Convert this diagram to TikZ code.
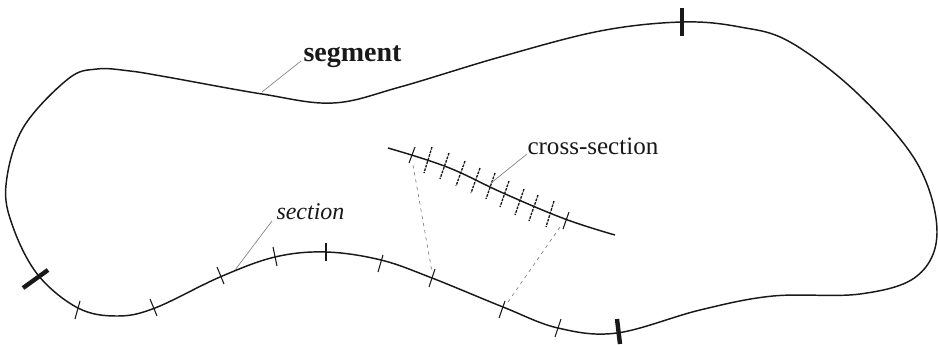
\documentclass[tikz,border=0pt]{standalone}
\usepackage{fontspec}
\setmainfont{Liberation Serif}
\tikzset{every picture/.style={line width=0.75pt}}
\tikzset{
  outline/.style={line width=1.1pt,black!90},
  thicktick/.style={line width=3.3pt,black!90},
  thintick/.style={line width=0.8pt,black!90},
  dottick/.style={line width=1pt,black!90,dash pattern=on 2pt off 0.8pt},
  leader/.style={line width=0.5pt,black!50},
  guide/.style={line width=0.5pt,black!50,dash pattern=on 2.5pt off 3pt},
  lbl/.style={inner sep=0pt,text=black!90,anchor=base west}
}
\begin{document}
\begin{tikzpicture}[x=0.75pt,y=0.75pt,yscale=-1,xscale=1]
\useasboundingbox (0,0) rectangle (938,344);

%Segment outline
\draw [outline] plot [smooth cycle,tension=0.6] coordinates {(97,69) (130,71) (167,77) (262,94) (333,103) (400,87) (500,57) (600,31) (682,22) (740,27) (790,42) (857,93) (917,163) (937,232) (917,276) (860,294) (773,296) (700,310) (617,333) (558,328) (503,307) (432,278) (381,260) (326,252) (275,257) (220,277) (155,308) (117,316) (78,308) (38,275) (13,227) (6,185) (23,128) (68,79)};

%Cross-section curve
\draw [outline] plot [smooth,tension=0.65] coordinates {(388,148) (447,167) (503,193) (565,219) (615,235)};

%Segment ticks
\coordinate (s1a) at (682,8);
\coordinate (s1b) at (682,36);
\draw [thicktick] (s1a) -- (s1b);
\coordinate (s2a) at (23,288);
\coordinate (s2b) at (48,270);
\draw [thicktick] (s2a) -- (s2b);
\coordinate (s3a) at (617,319);
\coordinate (s3b) at (620,344);
\draw [thicktick] (s3a) -- (s3b);

%Section ticks
\foreach \xa/\ya/\xb/\yb in {80/301/75/319, 150/299/157/316, 217/267/224/284, 273/247/277/266, 326/243/326/261, 383/255/378/272, 435/269/429/287, 505/301/499/318, 561/319/555/337}
  \draw [thintick] (\xa,\ya) -- (\xb,\yb);

%Cross-section ticks
\draw [thintick] (415,147) -- (409,163);
\draw [thintick] (569,212) -- (563,229);
\foreach \xa/\ya/\xb/\yb in {432/147/424/173, 449/153/440/179, 465/161/456/186, 480/168/471/193, 495/173/486/199, 509/181/500/207, 524/189/515/215, 538/195/529/221, 554/201/546/227}
  \draw [dottick] (\xa,\ya) -- (\xb,\yb);

%Guides
\draw [guide] (413,165) -- (432,272);
\draw [guide] (560,227) -- (508,302);

% Text Node
\node (segment) [lbl,font=\fontsize{21}{24}\selectfont] at (303,61) {\textbf{segment}};
\node (crosssection) [lbl,font=\fontsize{18.8}{22}\selectfont] at (527,154) {cross-section};
\node (section) [lbl,font=\fontsize{18}{22}\selectfont] at (276,219) {\textit{section}};

%Leaders
\coordinate (l1) at (262,92);
\coordinate (l2) at (491,183);
\coordinate (l3) at (235,270);
\draw [leader] (segment.base west) ++(-2,0) -- (l1);
\draw [leader] (crosssection.base west) -- (l2);
\draw [leader] (section.base west) ++(-4,2) -- (l3);

\end{tikzpicture}
\end{document}
